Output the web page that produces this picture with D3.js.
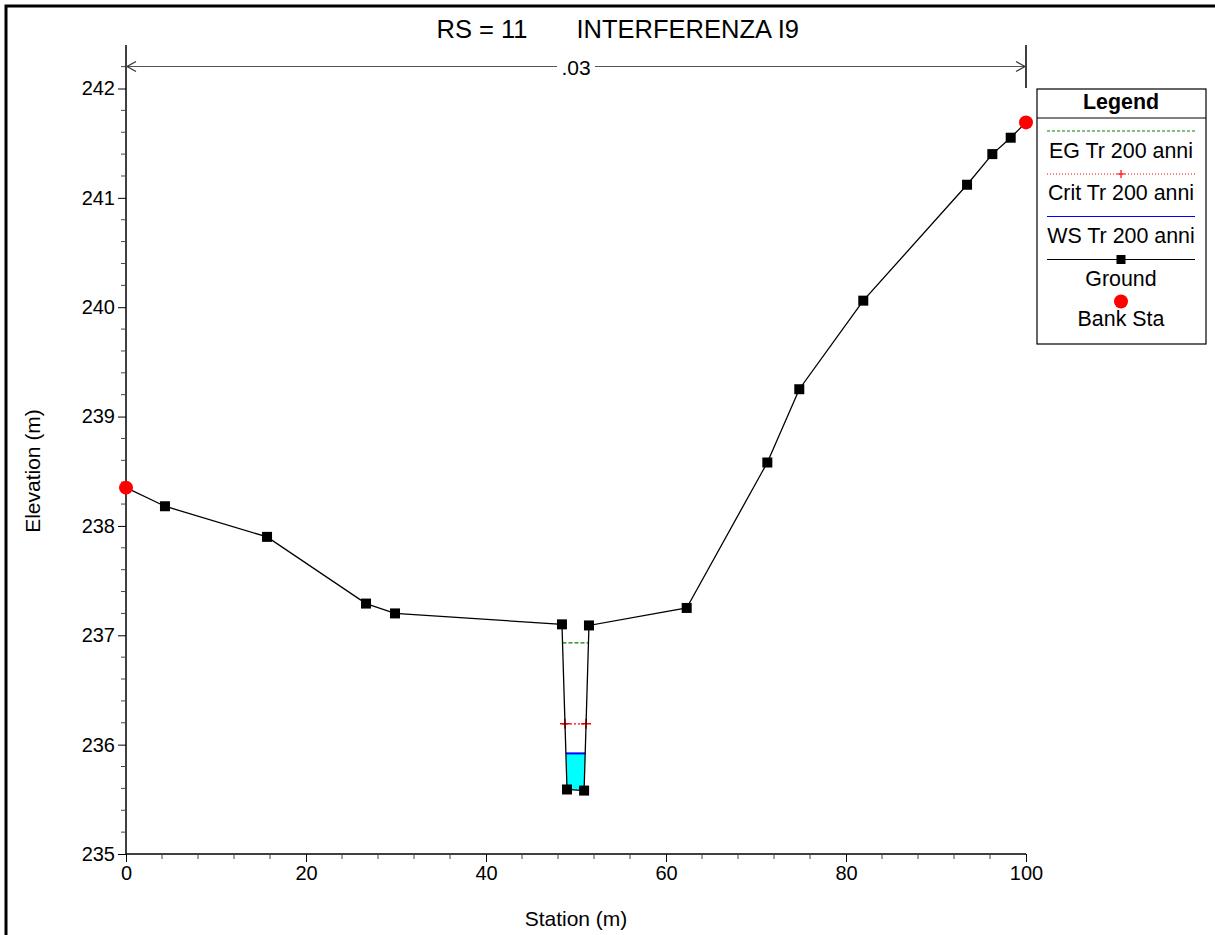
<!DOCTYPE html>
<html>
<head>
<meta charset="utf-8">
<script src="https://cdn.jsdelivr.net/npm/d3@7"></script>
<style>
  html, body { margin: 0; padding: 0; background: #fff; }
  svg { display: block; font-family: "Liberation Sans", Arial, sans-serif; }
</style>
</head>
<body>
<svg id="chart" width="1215" height="935"></svg>
<script>
// ---- data ----
const titleParts = ["RS = 11", "INTERFERENZA I9"];
const groundStation = [0, 4.33, 15.67, 26.67, 29.89, 48.44, 49.0, 50.9, 51.44, 62.3, 71.26, 74.81, 81.92, 93.45, 96.26, 98.3, 100];
const groundElev = [238.35, 238.18, 237.90, 237.29, 237.20, 237.10, 235.59, 235.58, 237.09, 237.25, 238.58, 239.25, 240.06, 241.12, 241.40, 241.55, 241.69];
const bankStation = [0, 100];
const bankElev = [238.35, 241.69];
const egElev = 236.93;
const critElev = 236.19;
const wsElev = 235.92;
const manningN = [".03"];
const manningStart = [0];
const manningEnd = [100];
const xTicks = [0, 20, 40, 60, 80, 100];
const yTicks = [235, 236, 237, 238, 239, 240, 241, 242];
const legendLabels = ["EG Tr 200 anni", "Crit Tr 200 anni", "WS Tr 200 anni", "Ground", "Bank Sta"];

// ---- layout ----
const svg = d3.select("#chart");
const x = d3.scaleLinear().domain([0, 100]).range([126, 1026]);
const y = d3.scaleLinear().domain([235, 242]).range([854, 88.5]);
const FS = 20;

// outer frame
svg.append("rect").attr("x", 6).attr("y", 6).attr("width", 1400).attr("height", 1400)
  .attr("fill", "none").attr("stroke", "#000").attr("stroke-width", 3);

// title
svg.append("text").attr("x", 436.5).attr("y", 37.5).attr("font-size", 25.5).text(titleParts[0]);
svg.append("text").attr("x", 576.5).attr("y", 37.5).attr("font-size", 25.5).text(titleParts[1]);

// axes
const xAxis = d3.axisBottom(x).tickValues(xTicks).tickSize(8).tickPadding(4).tickFormat(d3.format("d"));
const gx = svg.append("g").attr("transform", "translate(0,854)").call(xAxis);
gx.select(".domain").attr("d", `M${x(0)},0H${x(100)}`).attr("stroke", "#000").attr("stroke-width", 1.5);
gx.selectAll("text").attr("font-size", FS).attr("font-family", "Liberation Sans, Arial, sans-serif").attr("fill", "#000");
const xMinor = d3.range(0, 100.01, 4).filter(v => v % 20 !== 0);
gx.selectAll(".minor").data(xMinor).enter().append("line").attr("class", "minor")
  .attr("x1", d => x(d)).attr("x2", d => x(d)).attr("y1", 0).attr("y2", 5).attr("stroke", "#444");

const yAxis = d3.axisLeft(y).tickValues(yTicks).tickSize(8).tickPadding(3).tickFormat(d3.format("d"));
const gy = svg.append("g").attr("transform", "translate(126,0)").call(yAxis);
gy.select(".domain").attr("d", `M0,45V854`).attr("stroke", "#000").attr("stroke-width", 1.5);
gy.selectAll("text").attr("font-size", FS).attr("font-family", "Liberation Sans, Arial, sans-serif").attr("fill", "#000");
const yMinor = d3.range(235, 242.01, 0.2).filter(v => Math.abs(v - Math.round(v)) > 0.01);
gy.selectAll(".minor").data(yMinor).enter().append("line").attr("class", "minor")
  .attr("x1", -5).attr("x2", 0).attr("y1", d => y(d)).attr("y2", d => y(d)).attr("stroke", "#444");
gy.append("line").attr("x1", -5).attr("x2", 0).attr("y1", y(242.2)).attr("y2", y(242.2)).attr("stroke", "#444");

// axis titles
svg.append("text").attr("x", 576).attr("y", 926).attr("text-anchor", "middle").attr("font-size", 21).text("Station (m)");
svg.append("text").attr("transform", "translate(39.5,471) rotate(-90)").attr("text-anchor", "middle")
  .attr("font-size", 21).text("Elevation (m)");

// manning n arrow
const arrowY = 66.5;
manningN.forEach((n, i) => {
  const xs = x(manningStart[i]), xe = x(manningEnd[i]);
  const xm = (xs + xe) / 2;
  svg.append("line").attr("x1", xe).attr("x2", xe).attr("y1", 45).attr("y2", 88).attr("stroke", "#000").attr("stroke-width", 1.5);
  svg.append("line").attr("x1", xs).attr("x2", xm - 19).attr("y1", arrowY).attr("y2", arrowY).attr("stroke", "#555").attr("stroke-width", 1.2);
  svg.append("line").attr("x1", xm + 19).attr("x2", xe).attr("y1", arrowY).attr("y2", arrowY).attr("stroke", "#555").attr("stroke-width", 1.2);
  svg.append("path").attr("d", `M${xs + 10},${arrowY - 5}L${xs + 1},${arrowY}L${xs + 10},${arrowY + 5}`).attr("fill", "none").attr("stroke", "#333").attr("stroke-width", 1.2);
  svg.append("path").attr("d", `M${xe - 10},${arrowY - 5}L${xe - 1},${arrowY}L${xe - 10},${arrowY + 5}`).attr("fill", "none").attr("stroke", "#333").attr("stroke-width", 1.2);
  svg.append("text").attr("x", xm).attr("y", arrowY + 8).attr("text-anchor", "middle").attr("font-size", 21).text(n);
});

// helper: intersections of a horizontal level with ground in the channel
const ground = groundStation.map((s, i) => [s, groundElev[i]]);
function crossings(level) {
  const pts = [];
  for (let i = 0; i < ground.length - 1; i++) {
    const [s0, e0] = ground[i], [s1, e1] = ground[i + 1];
    if ((e0 - level) * (e1 - level) < 0) {
      const t = (level - e0) / (e1 - e0);
      pts.push(s0 + t * (s1 - s0));
    }
  }
  return pts;
}

// water fill (cyan) below WS
const wsX = crossings(wsElev);
const wl = wsX[0], wr = wsX[wsX.length - 1];
const fillPts = [[wl, wsElev]].concat(ground.filter(p => p[0] > wl && p[0] < wr && p[1] < wsElev)).concat([[wr, wsElev]]);
svg.append("path").attr("d", d3.line().x(d => x(d[0])).y(d => y(d[1]))(fillPts) + "Z")
  .attr("fill", "#00ffff").attr("stroke", "none");

// EG line
const egX = crossings(egElev);
svg.append("line").attr("x1", x(egX[0])).attr("x2", x(egX[egX.length - 1])).attr("y1", y(egElev)).attr("y2", y(egElev))
  .attr("stroke", "#008000").attr("stroke-width", 1.2).attr("stroke-dasharray", "4,2");
// Crit line
const crX = crossings(critElev);
svg.append("line").attr("x1", x(crX[0]) - 3).attr("x2", x(crX[crX.length - 1])).attr("y1", y(critElev)).attr("y2", y(critElev))
  .attr("stroke", "#ff0000").attr("stroke-width", 1.2).attr("stroke-dasharray", "2,2");
[crX[0], crX[crX.length - 1]].forEach(s => {
  svg.append("path").attr("d", `M${x(s) - 5},${y(critElev)}h10M${x(s)},${y(critElev) - 5}v10`).attr("stroke", "#ff0000").attr("stroke-width", 1.5);
});
// WS line
svg.append("line").attr("x1", x(wl)).attr("x2", x(wr)).attr("y1", y(wsElev)).attr("y2", y(wsElev))
  .attr("stroke", "#0000ff").attr("stroke-width", 2);

// ground line
svg.append("path").datum(ground).attr("d", d3.line().x(d => x(d[0])).y(d => y(d[1])))
  .attr("fill", "none").attr("stroke", "#000").attr("stroke-width", 1.3);
svg.selectAll(".gpt").data(ground.slice(1, -1)).enter().append("rect").attr("class", "gpt")
  .attr("x", d => x(d[0]) - 5).attr("y", d => y(d[1]) - 5).attr("width", 10).attr("height", 10).attr("fill", "#000");
// bank stations
svg.selectAll(".bank").data(bankStation).enter().append("circle").attr("class", "bank")
  .attr("cx", d => x(d)).attr("cy", (d, i) => y(bankElev[i])).attr("r", 7).attr("fill", "#ff0000");

// legend
const L = svg.append("g");
L.append("rect").attr("x", 1037).attr("y", 89).attr("width", 169).attr("height", 255).attr("fill", "#fff").attr("stroke", "#000").attr("stroke-width", 1.2);
L.append("line").attr("x1", 1037).attr("x2", 1206).attr("y1", 118).attr("y2", 118).attr("stroke", "#000").attr("stroke-width", 1.2);
L.append("text").attr("x", 1121).attr("y", 109).attr("text-anchor", "middle").attr("font-size", 21.4).attr("font-weight", "bold").text("Legend");
const lx1 = 1047, lx2 = 1195, lmid = 1121;
L.append("line").attr("x1", lx1).attr("x2", lx2).attr("y1", 131).attr("y2", 131).attr("stroke", "#008000").attr("stroke-dasharray", "3,2");
L.append("line").attr("x1", lx1).attr("x2", lx2).attr("y1", 174).attr("y2", 174).attr("stroke", "#ff0000").attr("stroke-dasharray", "1,2");
L.append("path").attr("d", `M${lmid - 4},174h8M${lmid},170v8`).attr("stroke", "#ff0000").attr("stroke-width", 1.2);
L.append("line").attr("x1", lx1).attr("x2", lx2).attr("y1", 216.5).attr("y2", 216.5).attr("stroke", "#0000ff").attr("stroke-width", 1.2);
L.append("line").attr("x1", lx1).attr("x2", lx2).attr("y1", 259.5).attr("y2", 259.5).attr("stroke", "#000").attr("stroke-width", 1.2);
L.append("rect").attr("x", lmid - 4.5).attr("y", 255).attr("width", 9).attr("height", 9).attr("fill", "#000");
L.append("circle").attr("cx", lmid).attr("cy", 301.5).attr("r", 7).attr("fill", "#ff0000");
const legY = [158, 200, 243, 285.5, 326];
legendLabels.forEach((t, i) => {
  L.append("text").attr("x", lmid).attr("y", legY[i]).attr("text-anchor", "middle").attr("font-size", 21.4).text(t);
});
</script>
</body>
</html>
